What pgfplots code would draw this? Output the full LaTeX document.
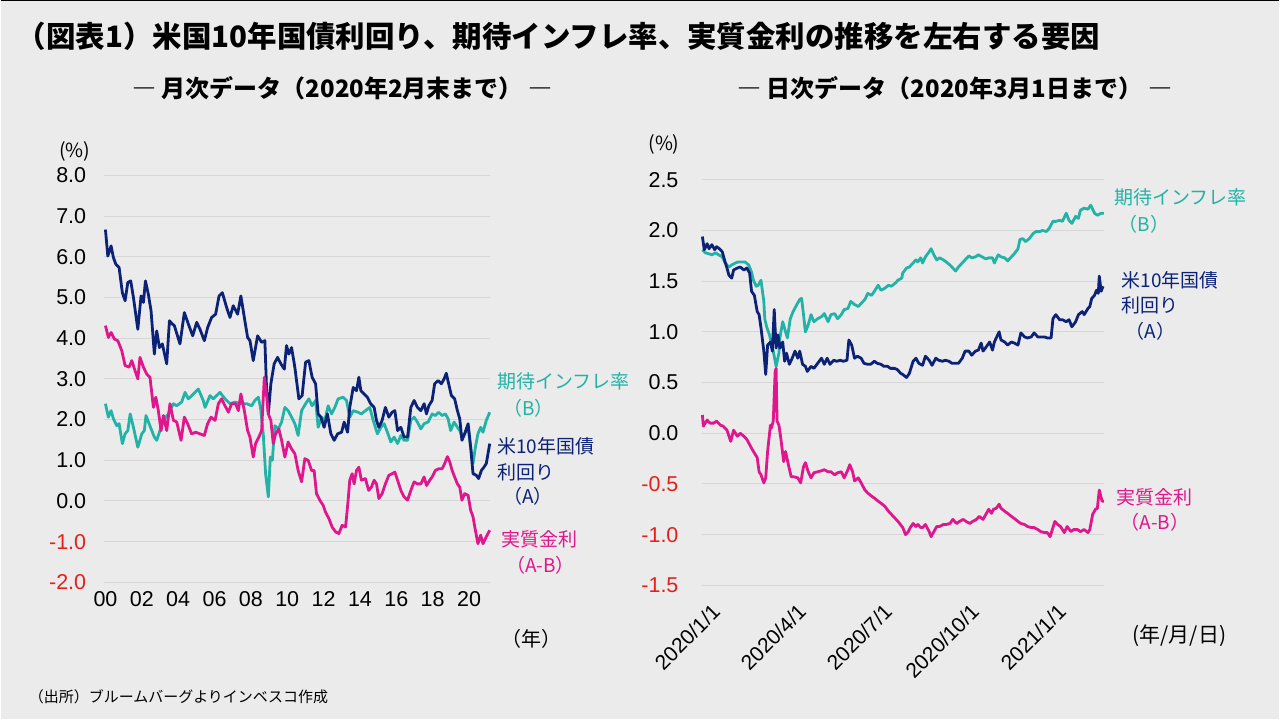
\documentclass[border=0pt]{standalone}
\usepackage{fontspec}
\setmainfont{Liberation Sans}
\newfontfamily\jp{Noto Sans CJK JP}
\usepackage{pgfplots}
\pgfplotsset{compat=1.18}
\definecolor{bgc}{HTML}{EBEBEB}
\definecolor{navyA}{HTML}{0C2277}
\definecolor{tealB}{HTML}{22B3A6}
\definecolor{pinkC}{HTML}{E0168C}
\definecolor{negred}{HTML}{E3201B}
\definecolor{gridc}{HTML}{D6D6D6}
\newcommand{\fs}[1]{\fontsize{#1bp}{#1bp}\selectfont}
\pgfplotsset{
  base/.style={
    anchor=south west, scale only axis, clip=false,
    axis line style={draw=none}, major tick length=0pt,
    ymajorgrids, grid style={gridc, line width=1bp},
    tick label style={font=\fs{21.5}},
  },
  sA/.style={navyA, line width=2.8bp, line join=round},
  sB/.style={tealB, line width=2.8bp, line join=round},
  sC/.style={pinkC, line width=2.8bp, line join=round},
}
\begin{document}
\begin{tikzpicture}
\fill[bgc] (0,0) rectangle (1280bp,-720bp);
\draw[black, line width=1.5bp] (0,-0.75bp) -- (1280bp,-0.75bp);
\node[anchor=west, inner sep=0, font=\jp\bfseries\fs{29.5}] at (16bp,-36bp) {（図表1）米国10年国債利回り、期待インフレ率、実質金利の推移を左右する要因};
\node[font=\jp\bfseries\fs{24}] at (342bp,-88bp) {―\hspace{6bp}月次データ（2020年2月末まで）\hspace{6bp}―};
\node[font=\jp\bfseries\fs{24}] at (955bp,-88bp) {―\hspace{6bp}日次データ（2020年3月1日まで）\hspace{6bp}―};

% ---------------- left panel ----------------
\begin{axis}[base,
  at={(103bp,-583bp)}, width=386.75bp, height=407.3bp,
  xmin=1999.9, xmax=2021.15, ymin=-2, ymax=8,
  ytick={-2,...,8},
  yticklabels={\textcolor{negred}{-2.0},\textcolor{negred}{-1.0},0.0,1.0,2.0,3.0,4.0,5.0,6.0,7.0,8.0},
  yticklabel style={xshift=-14bp},
  xtick={2000,2002,...,2020},
  xticklabels={00,02,04,06,08,10,12,14,16,18,20},
  xticklabel style={yshift=-6bp},
]
\addplot[sB] coordinates {(2000.00,2.39)(2000.16,2.06)(2000.31,2.22)(2000.44,2.02)(2000.62,1.85)(2000.75,1.90)(2000.93,1.41)(2001.08,1.65)(2001.23,1.73)(2001.36,2.14)(2001.54,1.81)(2001.78,1.32)(2002.00,1.65)(2002.14,1.73)(2002.23,2.10)(2002.40,1.90)(2002.69,1.57)(2002.82,1.49)(2003.00,1.73)(2003.19,1.98)(2003.46,2.14)(2003.74,2.39)(2003.92,2.34)(2004.19,2.43)(2004.38,2.67)(2004.56,2.51)(2004.84,2.63)(2005.11,2.75)(2005.38,2.47)(2005.48,2.30)(2005.75,2.59)(2005.93,2.51)(2006.30,2.67)(2006.58,2.51)(2006.85,2.39)(2007.12,2.43)(2007.49,2.39)(2007.77,2.39)(2008.04,2.34)(2008.22,2.47)(2008.41,2.55)(2008.53,2.30)(2008.68,1.65)(2008.81,0.67)(2008.96,0.10)(2009.07,1.08)(2009.18,1.00)(2009.32,1.85)(2009.51,1.77)(2009.69,1.94)(2009.87,2.30)(2010.05,2.22)(2010.24,2.06)(2010.42,1.90)(2010.60,1.61)(2010.79,2.22)(2011.01,2.39)(2011.19,2.51)(2011.37,2.34)(2011.56,2.47)(2011.70,1.81)(2011.89,2.06)(2012.07,1.98)(2012.25,2.34)(2012.44,2.14)(2012.62,2.30)(2012.80,2.51)(2013.08,2.55)(2013.26,2.47)(2013.44,2.06)(2013.63,2.22)(2013.90,2.18)(2014.08,2.14)(2014.30,2.22)(2014.54,2.30)(2014.73,1.98)(2014.96,1.65)(2015.15,1.81)(2015.33,1.90)(2015.51,1.69)(2015.70,1.45)(2015.88,1.57)(2016.07,1.41)(2016.25,1.61)(2016.43,1.49)(2016.62,1.49)(2016.80,1.98)(2016.98,2.06)(2017.16,1.94)(2017.35,1.77)(2017.53,1.90)(2017.75,1.94)(2017.97,2.14)(2018.15,2.10)(2018.33,2.18)(2018.52,2.10)(2018.70,2.14)(2018.85,2.02)(2018.99,1.73)(2019.18,1.94)(2019.36,1.81)(2019.49,1.73)(2019.61,1.57)(2019.76,1.65)(2019.95,1.81)(2020.09,1.32)(2020.22,0.92)(2020.35,1.32)(2020.49,1.65)(2020.64,1.81)(2020.77,1.69)(2020.95,1.98)(2021.14,2.18)};
\addplot[sA] coordinates {(2000.00,6.67)(2000.13,6.02)(2000.31,6.27)(2000.44,5.98)(2000.57,5.82)(2000.75,5.74)(2000.93,5.12)(2001.08,4.92)(2001.23,5.37)(2001.39,5.41)(2001.54,5.00)(2001.78,4.22)(2001.96,5.04)(2002.09,4.88)(2002.20,5.41)(2002.36,5.08)(2002.51,4.67)(2002.69,3.61)(2002.82,4.18)(2002.97,3.77)(2003.13,3.86)(2003.37,3.37)(2003.52,4.43)(2003.68,4.35)(2003.79,4.31)(2004.10,3.86)(2004.34,4.63)(2004.56,4.35)(2004.80,4.06)(2005.02,4.39)(2005.20,4.22)(2005.44,3.94)(2005.62,4.26)(2005.84,4.51)(2006.06,4.59)(2006.25,5.04)(2006.43,5.12)(2006.67,4.75)(2006.85,4.51)(2007.03,4.80)(2007.27,4.59)(2007.45,5.04)(2007.64,4.51)(2007.82,4.02)(2007.95,3.94)(2008.13,3.45)(2008.37,4.06)(2008.59,3.90)(2008.77,3.94)(2008.86,2.79)(2008.96,2.14)(2009.10,2.88)(2009.28,3.37)(2009.47,3.53)(2009.65,3.37)(2009.84,3.24)(2009.96,3.82)(2010.09,3.61)(2010.24,3.77)(2010.42,3.28)(2010.64,2.51)(2010.82,2.59)(2011.01,3.41)(2011.19,3.45)(2011.37,3.04)(2011.56,2.88)(2011.70,2.14)(2011.85,2.06)(2012.03,1.81)(2012.21,2.14)(2012.40,1.65)(2012.58,1.49)(2012.77,1.65)(2012.99,1.69)(2013.13,1.94)(2013.32,1.69)(2013.44,2.30)(2013.63,2.79)(2013.81,2.71)(2013.94,3.04)(2014.05,2.71)(2014.23,2.63)(2014.41,2.55)(2014.59,2.39)(2014.78,2.30)(2014.91,1.98)(2015.04,1.81)(2015.22,1.98)(2015.40,2.30)(2015.59,2.06)(2015.77,2.18)(2015.92,2.22)(2016.07,1.73)(2016.25,1.81)(2016.43,1.57)(2016.62,1.57)(2016.80,2.30)(2016.98,2.47)(2017.16,2.30)(2017.35,2.22)(2017.53,2.39)(2017.66,2.14)(2017.79,2.34)(2017.97,2.47)(2018.11,2.88)(2018.30,2.96)(2018.48,2.88)(2018.63,3.00)(2018.75,3.14)(2018.88,2.88)(2019.03,2.59)(2019.21,2.51)(2019.36,2.22)(2019.49,2.02)(2019.61,1.49)(2019.76,1.65)(2019.95,1.90)(2020.09,1.32)(2020.22,0.67)(2020.40,0.63)(2020.53,0.55)(2020.68,0.75)(2020.82,0.83)(2020.95,0.92)(2021.14,1.41)};
\addplot[sC] coordinates {(2000.00,4.31)(2000.16,4.02)(2000.31,4.14)(2000.49,3.98)(2000.68,3.94)(2000.90,3.69)(2001.08,3.33)(2001.30,3.29)(2001.45,3.45)(2001.63,3.20)(2001.78,3.00)(2001.90,3.53)(2002.09,3.29)(2002.27,3.12)(2002.45,3.04)(2002.64,2.30)(2002.77,2.55)(2002.91,2.22)(2003.06,1.73)(2003.19,2.10)(2003.37,1.73)(2003.55,2.39)(2003.74,1.98)(2003.92,1.94)(2004.16,1.49)(2004.34,2.06)(2004.52,1.90)(2004.74,1.65)(2004.96,1.69)(2005.20,1.65)(2005.44,1.61)(2005.62,1.90)(2005.81,2.06)(2006.03,1.98)(2006.21,2.39)(2006.39,2.51)(2006.58,2.34)(2006.76,2.18)(2006.94,2.39)(2007.16,2.39)(2007.31,2.22)(2007.45,2.63)(2007.64,2.22)(2007.82,1.73)(2007.95,1.57)(2008.13,1.08)(2008.26,1.41)(2008.44,1.57)(2008.59,1.73)(2008.74,3.04)(2008.86,2.63)(2008.96,2.14)(2009.10,1.98)(2009.23,1.41)(2009.36,1.65)(2009.54,1.77)(2009.69,1.49)(2009.87,1.08)(2010.05,1.45)(2010.24,1.28)(2010.42,1.16)(2010.60,0.75)(2010.79,0.47)(2010.97,1.04)(2011.15,1.00)(2011.34,0.75)(2011.48,0.75)(2011.61,0.18)(2011.79,0.02)(2011.98,-0.11)(2012.10,-0.27)(2012.29,-0.43)(2012.47,-0.64)(2012.66,-0.76)(2012.84,-0.80)(2013.02,-0.60)(2013.21,-0.64)(2013.35,0.02)(2013.44,0.51)(2013.57,0.67)(2013.68,0.42)(2013.81,0.75)(2013.94,0.83)(2014.08,0.51)(2014.30,0.55)(2014.48,0.26)(2014.63,0.34)(2014.78,0.51)(2014.91,0.42)(2015.04,0.06)(2015.22,0.18)(2015.40,0.42)(2015.59,0.63)(2015.77,0.67)(2015.92,0.71)(2016.07,0.51)(2016.25,0.26)(2016.43,0.10)(2016.62,0.02)(2016.80,0.26)(2016.98,0.47)(2017.16,0.42)(2017.35,0.42)(2017.53,0.59)(2017.66,0.38)(2017.84,0.51)(2017.97,0.59)(2018.15,0.75)(2018.33,0.79)(2018.52,0.79)(2018.66,0.92)(2018.81,1.09)(2018.94,0.96)(2019.07,0.75)(2019.21,0.59)(2019.36,0.42)(2019.49,0.34)(2019.61,0.02)(2019.76,0.18)(2019.95,0.14)(2020.09,-0.23)(2020.22,-0.39)(2020.35,-0.72)(2020.49,-1.05)(2020.64,-0.84)(2020.77,-1.05)(2020.95,-0.88)(2021.14,-0.72)};
\end{axis}

% ---------------- right panel ----------------
\begin{axis}[base,
  at={(702bp,-586bp)}, width=403bp, height=406bp,
  xmin=-0.5, xmax=425.5, ymin=-1.5, ymax=2.5,
  ytick={-1.5,-1,-0.5,0,0.5,1,1.5,2,2.5},
  yticklabels={\textcolor{negred}{-1.5},\textcolor{negred}{-1.0},\textcolor{negred}{-0.5},0.0,0.5,1.0,1.5,2.0,2.5},
  yticklabel style={xshift=-20bp},
  xtick={0,91,182,274,366},
  xticklabels={2020/1/1,2020/4/1,2020/7/1,2020/10/1,2021/1/1},
  xticklabel style={rotate=45, anchor=east, xshift=-3bp, yshift=-26bp, font=\fs{21}},
]
\addplot[sB] coordinates {(0,1.81)(3,1.78)(7,1.77)(10,1.76)(14,1.78)(17,1.76)(21,1.74)(24,1.68)(28,1.64)(31,1.66)(35,1.68)(38,1.69)(42,1.69)(45,1.69)(49,1.66)(52,1.59)(54,1.51)(57,1.45)(59,1.46)(62,1.51)(65,1.30)(66,1.13)(68,1.05)(71,0.97)(73,0.89)(75,0.81)(77,0.71)(78,0.66)(81,0.79)(82,0.94)(85,1.10)(88,1.00)(90,0.94)(93,1.13)(96,1.20)(100,1.27)(103,1.32)(105,1.33)(107,1.17)(109,1.00)(112,1.07)(115,1.17)(118,1.10)(122,1.13)(126,1.15)(129,1.18)(133,1.10)(136,1.17)(140,1.18)(143,1.13)(147,1.17)(150,1.22)(154,1.23)(157,1.30)(161,1.27)(165,1.25)(168,1.28)(172,1.32)(175,1.38)(179,1.36)(182,1.40)(186,1.46)(189,1.41)(193,1.43)(197,1.46)(200,1.45)(204,1.48)(207,1.51)(211,1.53)(212,1.58)(216,1.63)(219,1.64)(223,1.68)(226,1.71)(228,1.69)(231,1.73)(233,1.68)(236,1.74)(240,1.79)(242,1.82)(245,1.76)(248,1.71)(251,1.73)(255,1.71)(258,1.69)(262,1.66)(265,1.63)(268,1.60)(271,1.64)(275,1.68)(278,1.71)(282,1.75)(285,1.73)(289,1.74)(292,1.76)(296,1.74)(300,1.72)(303,1.73)(307,1.73)(309,1.68)(313,1.76)(316,1.74)(320,1.73)(323,1.70)(327,1.74)(330,1.77)(334,1.82)(336,1.91)(339,1.92)(342,1.89)(346,1.92)(350,1.97)(353,1.99)(357,1.99)(360,2.00)(364,1.99)(367,2.02)(371,2.09)(374,2.09)(378,2.10)(381,2.09)(385,2.17)(388,2.10)(391,2.07)(395,2.14)(398,2.12)(400,2.20)(404,2.22)(408,2.21)(411,2.25)(415,2.17)(418,2.15)(422,2.17)(425,2.17)};
\addplot[sA] coordinates {(0,1.94)(2,1.81)(5,1.87)(7,1.82)(10,1.86)(13,1.81)(15,1.84)(18,1.82)(21,1.79)(24,1.69)(26,1.63)(28,1.56)(31,1.53)(33,1.61)(37,1.63)(40,1.64)(44,1.61)(47,1.63)(50,1.58)(52,1.40)(55,1.36)(58,1.20)(60,1.17)(62,1.04)(65,0.81)(67,0.58)(69,0.87)(72,0.90)(74,0.81)(76,1.22)(78,0.84)(80,0.97)(82,0.84)(85,0.90)(87,0.71)(89,0.79)(92,0.68)(95,0.74)(98,0.81)(101,0.74)(103,0.81)(106,0.68)(109,0.66)(111,0.61)(115,0.66)(118,0.64)(122,0.69)(126,0.74)(129,0.68)(132,0.74)(135,0.68)(139,0.72)(142,0.71)(146,0.72)(149,0.71)(153,0.72)(155,0.92)(158,0.87)(161,0.74)(164,0.76)(168,0.74)(171,0.69)(175,0.68)(178,0.68)(182,0.71)(185,0.69)(189,0.68)(192,0.66)(196,0.66)(199,0.64)(203,0.64)(206,0.63)(210,0.59)(212,0.58)(216,0.55)(219,0.59)(223,0.71)(226,0.74)(229,0.69)(233,0.67)(236,0.76)(240,0.72)(243,0.67)(247,0.74)(250,0.72)(254,0.71)(257,0.72)(261,0.71)(264,0.69)(268,0.69)(271,0.69)(275,0.74)(278,0.81)(282,0.81)(285,0.77)(289,0.81)(292,0.82)(295,0.89)(297,0.81)(301,0.86)(304,0.90)(307,0.82)(309,0.90)(311,0.94)(314,1.00)(316,0.92)(320,0.90)(323,0.87)(327,0.90)(330,0.89)(334,0.87)(337,0.99)(341,0.95)(344,0.94)(348,0.95)(351,0.99)(355,0.95)(358,0.95)(362,0.95)(365,0.94)(369,0.94)(371,1.13)(374,1.17)(378,1.12)(381,1.12)(385,1.10)(388,1.12)(391,1.05)(395,1.10)(398,1.17)(402,1.20)(404,1.17)(408,1.23)(410,1.25)(412,1.33)(415,1.36)(417,1.41)(419,1.38)(420,1.55)(422,1.40)(424,1.45)};
\addplot[sC] coordinates {(0,0.18)(1,0.07)(5,0.13)(8,0.10)(12,0.10)(15,0.12)(19,0.08)(22,0.07)(26,0.03)(30,-0.08)(33,0.03)(37,-0.03)(40,0.00)(44,-0.03)(47,-0.06)(51,-0.13)(54,-0.18)(58,-0.24)(60,-0.38)(62,-0.41)(65,-0.49)(67,-0.44)(69,-0.18)(72,0.08)(73,0.05)(75,0.12)(77,0.61)(78,0.64)(79,0.12)(81,0.08)(83,-0.05)(86,-0.28)(88,-0.18)(91,-0.31)(94,-0.43)(97,-0.43)(101,-0.44)(104,-0.49)(107,-0.33)(109,-0.29)(112,-0.38)(115,-0.44)(118,-0.39)(122,-0.38)(126,-0.37)(129,-0.36)(133,-0.38)(136,-0.38)(140,-0.41)(143,-0.39)(147,-0.38)(150,-0.44)(154,-0.36)(156,-0.31)(159,-0.38)(161,-0.47)(165,-0.44)(168,-0.49)(172,-0.56)(175,-0.59)(179,-0.62)(182,-0.64)(186,-0.67)(189,-0.69)(193,-0.72)(197,-0.77)(200,-0.80)(204,-0.84)(207,-0.87)(212,-0.93)(215,-1.00)(218,-0.97)(220,-0.93)(223,-0.89)(226,-0.92)(228,-0.90)(231,-0.93)(233,-0.93)(236,-0.90)(240,-0.97)(242,-1.02)(245,-0.97)(248,-0.92)(251,-0.92)(255,-0.90)(258,-0.90)(262,-0.89)(265,-0.85)(269,-0.89)(272,-0.87)(276,-0.85)(279,-0.87)(283,-0.89)(286,-0.87)(290,-0.85)(293,-0.82)(297,-0.85)(300,-0.80)(303,-0.75)(306,-0.79)(308,-0.75)(311,-0.74)(314,-0.70)(316,-0.74)(320,-0.77)(323,-0.79)(327,-0.82)(330,-0.84)(334,-0.87)(337,-0.89)(341,-0.90)(344,-0.92)(348,-0.93)(351,-0.93)(355,-0.95)(358,-0.97)(362,-0.98)(365,-0.98)(368,-1.02)(371,-0.93)(373,-0.87)(376,-0.90)(379,-0.92)(383,-0.98)(386,-0.92)(390,-0.97)(393,-0.95)(397,-0.95)(400,-0.97)(404,-0.95)(408,-0.98)(410,-0.95)(413,-0.80)(416,-0.75)(418,-0.74)(420,-0.56)(423,-0.67)(425,-0.67)};
\end{axis}

% ---------------- annotations ----------------
\node[font=\jp\fs{19.5}] at (74bp,-152bp) {(\%)};
\node[font=\jp\fs{19.5}] at (664bp,-145bp) {(\%)};
\node[font=\jp\fs{20}] at (531bp,-640bp) {（年）};
\node[font=\jp\fs{21}] at (1180bp,-636bp) {(年/月/日)};

\begin{scope}[every node/.style={anchor=west, inner sep=0, font=\jp\fs{19}}]
\node[text=tealB] at (497bp,-382bp) {期待インフレ率};
\node[text=tealB] at (503bp,-409bp) {（B）};
\node[text=navyA] at (497bp,-447bp) {米10年国債};
\node[text=navyA] at (497bp,-473bp) {利回り};
\node[text=navyA] at (503bp,-497bp) {（A）};
\node[text=pinkC] at (501bp,-540bp) {実質金利};
\node[text=pinkC] at (506bp,-566bp) {（A-B）};

\node[text=tealB] at (1115bp,-198bp) {期待インフレ率};
\node[text=tealB] at (1119bp,-225bp) {（B）};
\node[text=navyA] at (1122bp,-281bp) {米10年国債};
\node[text=navyA] at (1122bp,-306bp) {利回り};
\node[text=navyA] at (1126bp,-332bp) {（A）};
\node[text=pinkC] at (1117bp,-498bp) {実質金利};
\node[text=pinkC] at (1121bp,-523bp) {（A-B）};
\end{scope}

\node[anchor=west, inner sep=0, font=\jp\fs{15}] at (28bp,-698bp) {（出所）ブルームバーグよりインベスコ作成};
\end{tikzpicture}
\end{document}
